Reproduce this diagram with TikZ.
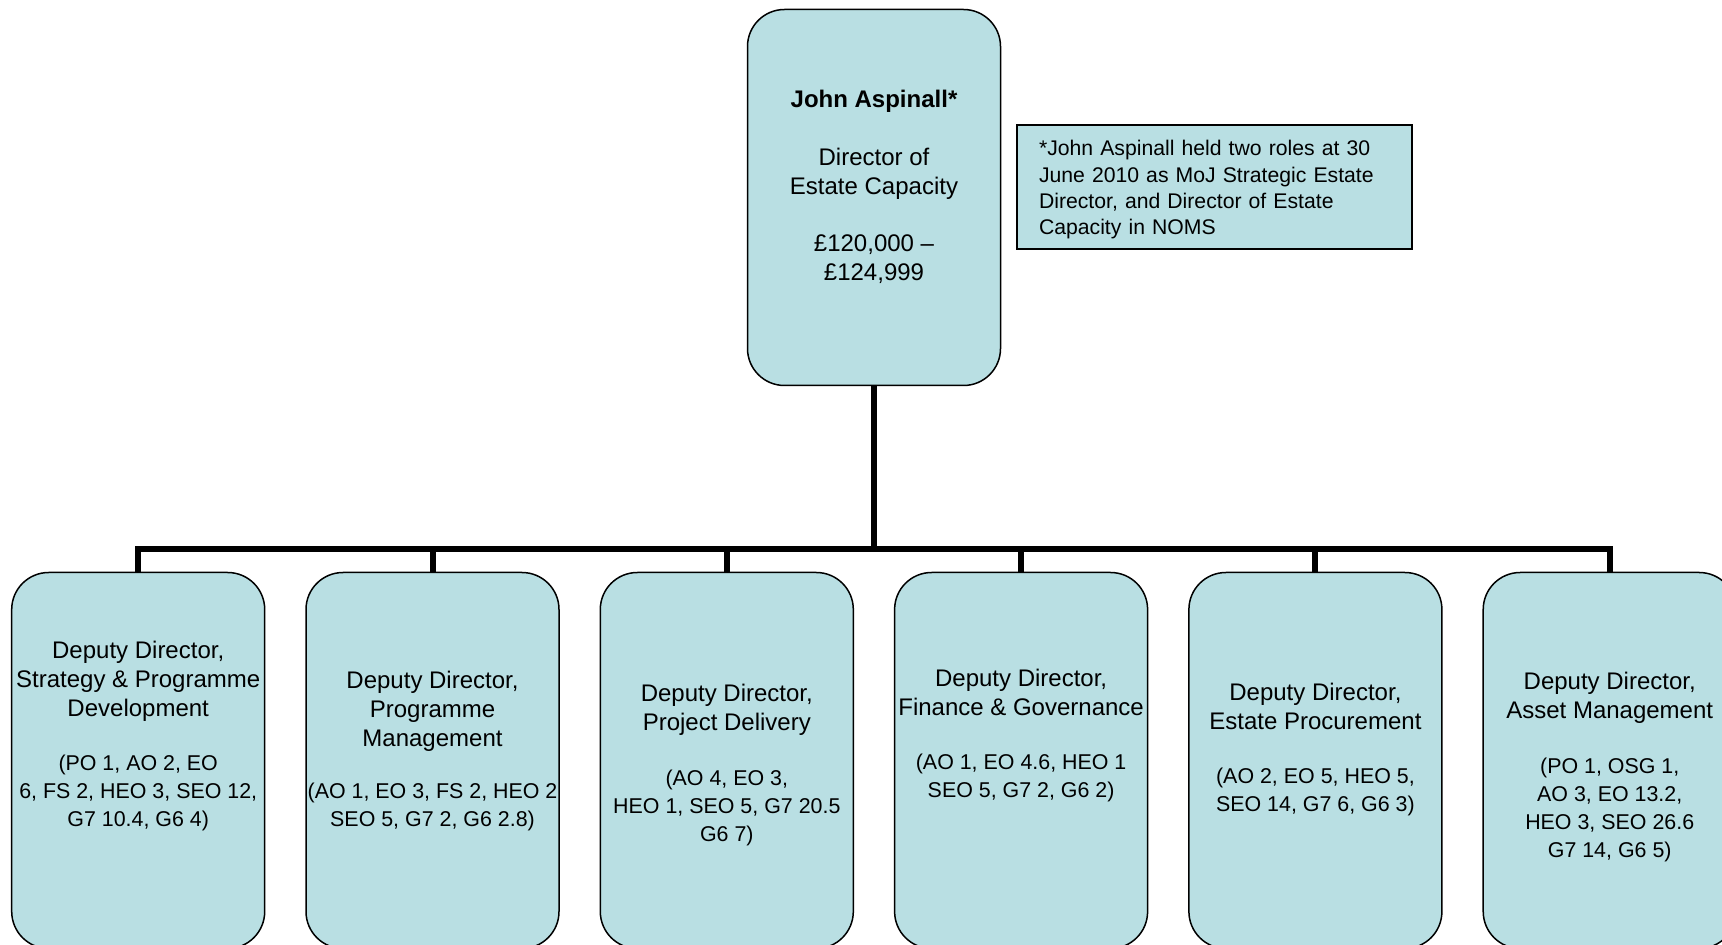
\documentclass[tikz,border=0pt]{standalone}
\usepackage{fontspec}
\setmainfont{Liberation Sans}
\usepackage{xcolor}
\usepackage{tikz}
\usetikzlibrary{positioning}
\definecolor{AQUA}{HTML}{B9DFE3}
\newcommand{\deputy}{Deputy Director,}
\newcommand{\gapline}{\\[14.25pt]}
\begin{document}
\begin{tikzpicture}[node distance=147.15pt,
	box/.style={draw, fill=AQUA, line width=0.75pt, rounded corners=18.5pt, minimum width=126.5pt, minimum height=188pt},
	title/.style={align=center, inner sep=0pt, font=\fontsize{12}{14.4}\selectfont},
	grade/.style={align=center, inner sep=0pt, font=\fontsize{10.7}{14}\selectfont},
	remark/.style={draw, fill=AQUA, line width=0.75pt, align=left, text width=175.5pt, inner xsep=11pt, minimum height=62pt, font=\fontsize{10.6}{13.2}\selectfont},
	link/.style={line width=3pt}]
	\useasboundingbox (0,0) rectangle (861pt,-472.5pt);
	
	\node[box] (dir)  at (437pt,-98.75pt)         {};
	\node[remark] (note) at (607.25pt,-93.5pt)   {\rule{0pt}{10.6pt}*John Aspinall held two roles at 30\\ June 2010 as MoJ Strategic Estate\\ Director, and Director of Estate\\ Capacity in NOMS};
	\node[box] (b1)   at (69.1pt,-380.25pt)       {};
	\node[box] (b2)   [right of=b1]               {};
	\node[box] (b3)   [right of=b2]               {};
	\node[box] (b4)   [right of=b3]               {};
	\node[box] (b5)   [right of=b4]               {};
	\node[box] (b6)   [right of=b5]               {};
	
	\node[title] (dirtxt) [below=40.7pt of dir.north] {\textbf{John Aspinall*}\gapline Director of\\ Estate Capacity\gapline £120,000 –\\ £124,999};
	\node[title] (t1) [below=34.6pt of b1.north] {\deputy\\ Strategy \& Programme\\ Development};
	\node[title] (t2) [below=49.6pt of b2.north] {\deputy\\ Programme\\ Management};
	\node[title] (t3) [below=56.0pt of b3.north] {\deputy\\ Project Delivery};
	\node[title] (t4) [below=48.5pt of b4.north] {\deputy\\ Finance \& Governance};
	\node[title] (t5) [below=55.5pt of b5.north] {\deputy\\ Estate Procurement};
	\node[title] (t6) [below=50.2pt of b6.north] {\deputy\\ Asset Management};
	\node[grade] (g1) [below=91.4pt of b1.north]  {(PO 1, AO 2, EO\\ 6, FS 2, HEO 3, SEO 12,\\ G7 10.4, G6 4)};
	\node[grade] (g2) [below=105.6pt of b2.north] {(AO 1, EO 3, FS 2, HEO 2\\ SEO 5, G7 2, G6 2.8)};
	\node[grade] (g3) [below=99.0pt of b3.north]  {(AO 4, EO 3,\\ HEO 1, SEO 5, G7 20.5\\ G6 7)};
	\node[grade] (g4) [below=91.1pt of b4.north]  {(AO 1, EO 4.6, HEO 1\\ SEO 5, G7 2, G6 2)};
	\node[grade] (g5) [below=98.0pt of b5.north]  {(AO 2, EO 5, HEO 5,\\ SEO 14, G7 6, G6 3)};
	\node[grade] (g6) [below=92.7pt of b6.north]  {(PO 1, OSG 1,\\ AO 3, EO 13.2,\\ HEO 3, SEO 26.6\\ G7 14, G6 5)};
	
	\draw[link] (dir.south) -- ++(0,-81.25pt) coordinate (hub);
	\draw[link] (b1.north) |- (hub) -| (b6.north);
	\foreach \n in {2,...,5}
		\draw[link] (b\n.north) -- (b\n.north |- hub);
\end{tikzpicture}
\end{document}
